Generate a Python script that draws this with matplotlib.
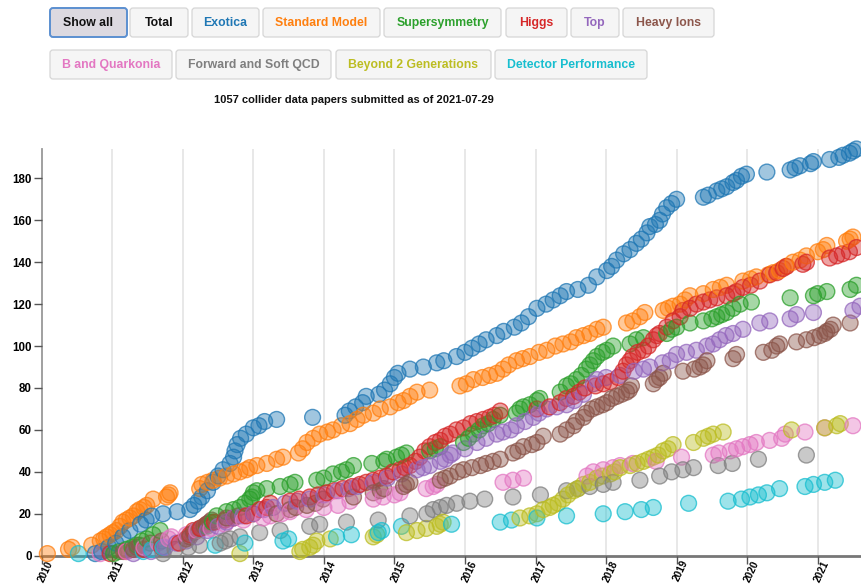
import numpy as np
import matplotlib

matplotlib.use("Agg")
import matplotlib.pyplot as plt
import matplotlib.transforms as mtransforms
from matplotlib.patches import FancyBboxPatch
from matplotlib.colors import to_rgba

plt.rcParams["font.family"] = ["Liberation Sans", "DejaVu Sans"]

# (decimal year, cumulative paper count)
exotica = [
    (2010.76, 1), (2010.85, 2), (2010.95, 4), (2011.05, 6), (2011.15, 9), (2011.25, 12),
    (2011.40, 15), (2011.48, 17), (2011.56, 19), (2011.72, 20), (2011.92, 21), (2012.10, 22),
    (2012.16, 24), (2012.22, 26), (2012.27, 28), (2012.35, 31), (2012.43, 35), (2012.50, 38),
    (2012.57, 41), (2012.67, 44), (2012.72, 47), (2012.74, 50), (2012.77, 53), (2012.82, 56),
    (2012.90, 58), (2013.00, 61), (2013.08, 62), (2013.16, 64), (2013.33, 65), (2013.84, 66),
    (2014.30, 67), (2014.36, 69), (2014.45, 71), (2014.55, 73), (2014.60, 76), (2014.78, 77),
    (2014.86, 79), (2014.94, 82), (2015.00, 85), (2015.05, 87), (2015.22, 89), (2015.41, 90),
    (2015.60, 92), (2015.70, 93), (2015.88, 95), (2016.00, 97), (2016.10, 99), (2016.20, 101),
    (2016.30, 103), (2016.45, 105), (2016.55, 107), (2016.70, 109), (2016.80, 111), (2016.90, 114),
    (2017.02, 118), (2017.15, 120), (2017.25, 122), (2017.35, 124), (2017.44, 126), (2017.60, 127),
    (2017.75, 129), (2017.87, 133), (2018.01, 136), (2018.08, 138), (2018.15, 141), (2018.25, 144),
    (2018.34, 146), (2018.43, 149), (2018.50, 151), (2018.58, 154), (2018.62, 157), (2018.70, 158),
    (2018.76, 160), (2018.80, 163), (2018.86, 166), (2018.93, 168), (2019.00, 170), (2019.38, 171),
    (2019.45, 172), (2019.57, 174), (2019.64, 175), (2019.71, 176), (2019.80, 178), (2019.85, 179),
    (2019.92, 181), (2019.99, 182), (2020.28, 183), (2020.61, 184), (2020.68, 185), (2020.75, 186),
    (2020.90, 187), (2020.94, 188), (2021.17, 189), (2021.30, 190), (2021.36, 191), (2021.45, 192),
    (2021.50, 193), (2021.55, 194),
]
standard_model = [
    (2010.08, 1), (2010.38, 3), (2010.43, 4), (2010.71, 5), (2010.83, 7), (2010.88, 8),
    (2010.92, 9), (2010.97, 10), (2011.01, 11), (2011.06, 12), (2011.11, 14), (2011.15, 16),
    (2011.20, 17), (2011.25, 18), (2011.30, 19), (2011.35, 21), (2011.39, 22), (2011.45, 23),
    (2011.49, 24), (2011.58, 27), (2011.77, 28), (2011.80, 29), (2011.82, 30), (2012.24, 32),
    (2012.27, 34), (2012.35, 35), (2012.43, 36), (2012.52, 37), (2012.62, 38), (2012.72, 39),
    (2012.81, 40), (2012.90, 41), (2012.95, 42), (2013.05, 43), (2013.19, 44), (2013.33, 46),
    (2013.42, 47), (2013.64, 49), (2013.70, 51), (2013.76, 54), (2013.85, 56), (2013.94, 58),
    (2014.05, 59), (2014.13, 60), (2014.25, 62), (2014.37, 63), (2014.47, 65), (2014.56, 67),
    (2014.70, 68), (2014.80, 70), (2014.94, 71), (2015.05, 73), (2015.13, 74), (2015.22, 76),
    (2015.32, 78), (2015.50, 79), (2015.93, 81), (2016.02, 82), (2016.12, 84), (2016.25, 85),
    (2016.35, 86), (2016.45, 87), (2016.54, 89), (2016.62, 91), (2016.73, 93), (2016.82, 94),
    (2016.92, 95), (2017.05, 97), (2017.16, 98), (2017.28, 100), (2017.39, 101), (2017.50, 102),
    (2017.58, 104), (2017.68, 105), (2017.77, 106), (2017.87, 108), (2017.96, 109), (2018.29, 111),
    (2018.38, 112), (2018.48, 114), (2018.55, 116), (2018.81, 117), (2018.88, 118), (2018.95, 119),
    (2019.05, 120), (2019.12, 122), (2019.19, 124), (2019.38, 125), (2019.52, 127), (2019.62, 128),
    (2019.71, 129), (2019.94, 131), (2020.05, 132), (2020.13, 133), (2020.30, 134), (2020.37, 135),
    (2020.46, 136), (2020.55, 138), (2020.65, 140), (2020.75, 141), (2020.84, 143), (2021.00, 145),
    (2021.08, 146), (2021.13, 148), (2021.41, 150), (2021.46, 151), (2021.50, 152),
]
supersymmetry = [
    (2011.02, 1), (2011.10, 2), (2011.20, 3), (2011.28, 4), (2011.35, 5), (2011.42, 7),
    (2011.49, 8), (2011.58, 10), (2011.68, 12), (2012.34, 14), (2012.42, 16), (2012.48, 19),
    (2012.62, 21), (2012.72, 22), (2012.81, 23), (2012.88, 25), (2012.95, 27), (2012.98, 28),
    (2013.00, 30), (2013.05, 31), (2013.19, 32), (2013.38, 33), (2013.52, 34), (2013.59, 35),
    (2013.90, 36), (2014.00, 37), (2014.13, 39), (2014.25, 40), (2014.32, 41), (2014.42, 43),
    (2014.68, 44), (2014.85, 45), (2014.89, 46), (2015.03, 47), (2015.10, 48), (2015.17, 49),
    (2015.50, 50), (2015.58, 51), (2015.65, 52), (2015.98, 54), (2016.05, 56), (2016.12, 58),
    (2016.20, 60), (2016.26, 62), (2016.33, 63), (2016.40, 65), (2016.50, 67), (2016.73, 68),
    (2016.78, 70), (2016.83, 71), (2016.92, 72), (2017.02, 74), (2017.06, 75), (2017.35, 78),
    (2017.44, 81), (2017.50, 82), (2017.58, 84), (2017.65, 86), (2017.72, 89), (2017.77, 91),
    (2017.82, 93), (2017.87, 95), (2017.95, 97), (2018.01, 98), (2018.10, 100), (2018.34, 101),
    (2018.43, 103), (2018.53, 104), (2018.86, 106), (2018.93, 108), (2019.00, 109), (2019.19, 111),
    (2019.38, 112), (2019.50, 113), (2019.57, 114), (2019.64, 115), (2019.71, 116), (2019.80, 118),
    (2019.90, 120), (2020.06, 121), (2020.61, 123), (2020.94, 124), (2021.00, 125), (2021.13, 126),
    (2021.46, 127), (2021.55, 129),
]
higgs = [
    (2010.97, 1), (2011.20, 2), (2011.45, 3), (2011.70, 4), (2011.95, 6), (2012.05, 8),
    (2012.10, 10), (2012.15, 12), (2012.25, 13), (2012.34, 15), (2012.45, 16), (2012.60, 17),
    (2012.72, 18), (2012.90, 19), (2013.00, 20), (2013.09, 22), (2013.19, 23), (2013.24, 25),
    (2013.52, 26), (2013.65, 27), (2013.80, 28), (2013.92, 29), (2014.04, 30), (2014.15, 31),
    (2014.27, 32), (2014.40, 33), (2014.51, 34), (2014.60, 35), (2014.70, 36), (2014.80, 37),
    (2014.89, 38), (2014.98, 40), (2015.08, 41), (2015.15, 42), (2015.22, 43), (2015.30, 45),
    (2015.36, 47), (2015.43, 50), (2015.50, 52), (2015.58, 54), (2015.65, 55), (2015.72, 57),
    (2015.79, 58), (2015.88, 60), (2015.98, 61), (2016.08, 63), (2016.17, 64), (2016.26, 65),
    (2016.35, 66), (2016.42, 67), (2016.50, 69), (2017.02, 70), (2017.20, 71), (2017.35, 73),
    (2017.44, 75), (2017.54, 76), (2017.62, 78), (2017.70, 80), (2017.85, 81), (2017.96, 82),
    (2018.06, 83), (2018.17, 85), (2018.24, 88), (2018.29, 91), (2018.34, 93), (2018.38, 95),
    (2018.45, 97), (2018.53, 98), (2018.60, 100), (2018.67, 103), (2018.72, 105), (2018.76, 106),
    (2018.86, 109), (2018.95, 112), (2019.05, 114), (2019.09, 117), (2019.19, 118), (2019.28, 120),
    (2019.38, 121), (2019.47, 122), (2019.57, 123), (2019.71, 124), (2019.80, 125), (2019.85, 126),
    (2019.94, 128), (2020.05, 129), (2020.18, 131), (2020.32, 134), (2020.42, 135), (2020.51, 137),
    (2020.56, 138), (2020.79, 139), (2020.84, 140), (2021.17, 142), (2021.27, 143), (2021.35, 144),
    (2021.45, 145), (2021.55, 147),
]
top = [
    (2011.30, 1), (2011.55, 2), (2011.75, 4), (2011.91, 6), (2012.05, 7), (2012.20, 9),
    (2012.35, 12), (2012.50, 14), (2012.62, 16), (2012.72, 18), (2012.85, 19), (2013.00, 20),
    (2013.15, 22), (2013.28, 23), (2013.45, 25), (2013.62, 26), (2013.80, 27), (2014.00, 29),
    (2014.20, 31), (2014.35, 32), (2014.47, 33), (2014.70, 35), (2014.90, 37), (2015.10, 39),
    (2015.32, 41), (2015.41, 42), (2015.50, 43), (2015.65, 45), (2015.72, 46), (2015.79, 48),
    (2015.83, 49), (2016.00, 51), (2016.17, 54), (2016.30, 56), (2016.45, 58), (2016.54, 59),
    (2016.65, 60), (2016.73, 62), (2016.85, 64), (2016.97, 66), (2017.05, 68), (2017.16, 70),
    (2017.30, 71), (2017.44, 72), (2017.55, 74), (2017.68, 77), (2017.82, 82), (2017.87, 84),
    (2018.00, 85), (2018.20, 86), (2018.40, 88), (2018.53, 89), (2018.62, 90), (2018.80, 92),
    (2018.91, 93), (2019.00, 96), (2019.14, 97), (2019.28, 98), (2019.43, 100), (2019.52, 101),
    (2019.61, 103), (2019.70, 105), (2019.80, 106), (2019.94, 108), (2020.18, 111), (2020.32, 112),
    (2020.61, 113), (2020.70, 115), (2020.94, 116), (2021.50, 117), (2021.60, 119),
]
heavy_ions = [
    (2011.16, 2), (2011.30, 3), (2011.35, 4), (2011.39, 5), (2011.54, 6), (2011.70, 7),
    (2012.05, 8), (2012.10, 9), (2012.15, 11), (2012.20, 12), (2012.24, 13), (2012.30, 14),
    (2012.34, 15), (2012.38, 16), (2012.41, 17), (2012.62, 18), (2012.79, 19), (2013.33, 20),
    (2013.52, 22), (2013.60, 23), (2013.76, 24), (2013.88, 25), (2013.99, 27), (2014.42, 28),
    (2014.70, 30), (2014.80, 31), (2014.85, 32), (2015.13, 33), (2015.17, 34), (2015.22, 35),
    (2015.65, 36), (2015.72, 37), (2015.79, 38), (2015.90, 40), (2015.98, 41), (2016.10, 42),
    (2016.22, 43), (2016.30, 44), (2016.40, 45), (2016.50, 46), (2016.68, 49), (2016.75, 50),
    (2016.83, 52), (2016.95, 53), (2017.02, 54), (2017.11, 57), (2017.35, 58), (2017.44, 60),
    (2017.54, 62), (2017.58, 64), (2017.68, 66), (2017.72, 68), (2017.80, 70), (2017.87, 71),
    (2017.95, 72), (2018.01, 73), (2018.08, 75), (2018.15, 76), (2018.22, 77), (2018.29, 78),
    (2018.33, 79), (2018.36, 81), (2018.67, 82), (2018.72, 84), (2018.76, 85), (2018.81, 87),
    (2019.09, 88), (2019.25, 89), (2019.33, 90), (2019.38, 91), (2019.43, 93), (2019.80, 94),
    (2019.85, 96), (2020.23, 97), (2020.35, 98), (2020.42, 100), (2020.46, 101), (2020.70, 102),
    (2020.84, 103), (2020.95, 104), (2021.03, 105), (2021.10, 106), (2021.13, 107), (2021.18, 108),
    (2021.22, 110), (2021.46, 111),
]
b_quarkonia = [
    (2010.83, 1), (2011.20, 2), (2011.45, 4), (2011.65, 6), (2011.80, 8), (2011.84, 9),
    (2012.05, 10), (2012.20, 12), (2012.40, 13), (2012.60, 15), (2012.86, 17), (2013.14, 18),
    (2013.24, 19), (2013.40, 20), (2013.52, 21), (2013.75, 22), (2014.00, 23), (2014.20, 24),
    (2014.37, 26), (2014.70, 27), (2014.84, 28), (2015.00, 29), (2015.08, 30), (2015.45, 32),
    (2015.55, 33), (2015.60, 34), (2016.54, 35), (2016.68, 36), (2016.83, 37), (2017.73, 38),
    (2017.82, 40), (2017.96, 41), (2018.10, 42), (2018.20, 43), (2018.38, 44), (2018.71, 45),
    (2019.07, 47), (2019.52, 48), (2019.60, 49), (2019.76, 50), (2019.85, 51), (2019.94, 52),
    (2020.04, 53), (2020.13, 54), (2020.32, 55), (2020.49, 56), (2020.54, 58), (2020.82, 59),
    (2021.10, 61), (2021.50, 62),
]
forward_qcd = [
    (2011.72, 1), (2011.89, 3), (2012.08, 4), (2012.24, 5), (2012.53, 6), (2012.60, 7),
    (2012.67, 8), (2012.81, 9), (2013.09, 11), (2013.38, 12), (2013.80, 14), (2013.94, 15),
    (2014.32, 16), (2014.77, 17), (2015.22, 19), (2015.46, 20), (2015.55, 22), (2015.65, 23),
    (2015.74, 24), (2015.88, 25), (2016.07, 26), (2016.28, 27), (2016.68, 28), (2017.07, 29),
    (2017.44, 31), (2017.60, 32), (2017.77, 33), (2017.96, 34), (2018.10, 35), (2018.48, 36),
    (2018.76, 38), (2018.93, 40), (2019.09, 41), (2019.24, 42), (2019.59, 43), (2019.79, 44),
    (2020.16, 46), (2020.84, 48),
]
beyond_2g = [
    (2012.81, 1), (2013.66, 2), (2013.70, 3), (2013.80, 4), (2013.85, 5), (2013.90, 7),
    (2014.09, 8), (2014.70, 9), (2014.75, 10), (2015.17, 11), (2015.32, 12), (2015.45, 13),
    (2015.60, 14), (2015.65, 15), (2015.69, 16), (2016.78, 18), (2016.92, 19), (2017.02, 20),
    (2017.11, 22), (2017.20, 23), (2017.25, 24), (2017.32, 25), (2017.39, 27), (2017.46, 29),
    (2017.54, 31), (2017.60, 32), (2017.68, 34), (2017.77, 35), (2017.87, 37), (2017.95, 38),
    (2018.06, 39), (2018.12, 40), (2018.20, 42), (2018.34, 43), (2018.44, 44), (2018.53, 45),
    (2018.60, 46), (2018.67, 47), (2018.74, 48), (2018.81, 50), (2018.88, 51), (2018.95, 53),
    (2019.24, 54), (2019.38, 56), (2019.45, 57), (2019.52, 58), (2019.66, 59), (2020.63, 60),
    (2021.10, 61), (2021.27, 62), (2021.32, 63),
]
detector = [
    (2010.52, 1), (2011.44, 2), (2011.56, 3), (2011.72, 4), (2012.46, 5), (2012.88, 6),
    (2013.42, 7), (2013.50, 8), (2014.18, 9), (2014.39, 10), (2014.77, 11), (2014.82, 12),
    (2015.10, 14), (2015.81, 15), (2016.50, 16), (2016.66, 17), (2017.02, 18), (2017.44, 19),
    (2017.96, 20), (2018.27, 21), (2018.50, 22), (2018.67, 23), (2019.17, 25), (2019.73, 26),
    (2019.92, 27), (2020.04, 28), (2020.16, 29), (2020.28, 30), (2020.46, 32), (2020.82, 33),
    (2020.94, 34), (2021.10, 35), (2021.25, 36),
]

categories = ["Exotica", "Standard Model", "Supersymmetry", "Higgs", "Top", "Heavy Ions",
              "B and Quarkonia", "Forward and Soft QCD", "Beyond 2 Generations", "Detector Performance"]
series = [exotica, standard_model, supersymmetry, higgs, top, heavy_ions,
          b_quarkonia, forward_qcd, beyond_2g, detector]
colors = ["#1f77b4", "#ff7f0e", "#2ca02c", "#d62728", "#9467bd", "#8c564b",
          "#e377c2", "#7f7f7f", "#bcbd22", "#17becf"]
years = list(range(2010, 2022))
title = "1057 collider data papers submitted as of 2021-07-29"

W, H = 862, 586
fig = plt.figure(figsize=(W / 100, H / 100), dpi=100)

# ---- buttons and title (pixel coords overlay) ----
ov = fig.add_axes([0, 0, 1, 1])
ov.set_xlim(0, W)
ov.set_ylim(H, 0)
ov.axis("off")

buttons = [
    ("Show all", "#111111", 50, 127, 8, 37),
    ("Total", "#111111", 130, 188, 8, 37),
    ("Exotica", colors[0], 192, 259, 8, 37),
    ("Standard Model", colors[1], 263, 380, 8, 37),
    ("Supersymmetry", colors[2], 384, 501, 8, 37),
    ("Higgs", colors[3], 506, 567, 8, 37),
    ("Top", colors[4], 571, 619, 8, 37),
    ("Heavy Ions", colors[5], 623, 714, 8, 37),
    ("B and Quarkonia", colors[6], 50, 172, 50, 79),
    ("Forward and Soft QCD", colors[7], 176, 331, 50, 79),
    ("Beyond 2 Generations", colors[8], 336, 491, 50, 79),
    ("Detector Performance", colors[9], 495, 647, 50, 79),
]
for i, (label, tc, x0, x1, y0, y1) in enumerate(buttons):
    active = i == 0
    box = FancyBboxPatch((x0, y0), x1 - x0, y1 - y0,
                         boxstyle="round,pad=0,rounding_size=3",
                         facecolor="#dcd9e0" if active else "#f5f5f5",
                         edgecolor="#5b8fd0" if active else "#d6d6d6",
                         linewidth=1.4 if active else 0.9)
    ov.add_patch(box)
    ov.text((x0 + x1) / 2, (y0 + y1) / 2 + 0.5, label, color=tc, fontsize=8.8,
            fontweight="bold", ha="center", va="center")

ov.text(354, 100, title, fontsize=8, fontweight="bold", ha="center", va="center", color="#111111")

# ---- scatter ----
ax = fig.add_axes([41.7 / W, 1 - 555.7 / H, (860 - 41.7) / W, (555.7 - 149) / H])
ax.set_zorder(2)
ax.patch.set_alpha(0)

xs, ys, fc, ec = [], [], [], []
for pts, col in zip(series, colors):
    for x, y in pts:
        xs.append(x)
        ys.append(y)
        fc.append(to_rgba(col, 0.42))
        ec.append(to_rgba(col, 0.75))
xs = np.array(xs)
ys = np.array(ys)
order = np.argsort(xs, kind="stable")
ax.scatter(xs[order], ys[order], s=130, facecolors=np.array(fc)[order],
           edgecolors=np.array(ec)[order], linewidths=1.0, clip_on=False, zorder=3)

ax.set_xlim(2010, 2021.6)
ax.set_ylim(0, 194)
for yr in years[1:]:
    ax.axvline(yr, color="#e6e6e6", linewidth=1.3, zorder=0)

ax.set_yticks(range(0, 181, 20))
ax.set_xticks(years)
ax.set_xticklabels([str(y) for y in years])
ax.tick_params(axis="y", length=6, width=1, color="#555555", labelsize=8.3, pad=1)
ax.tick_params(axis="x", length=6, width=1, color="#555555", labelsize=7.2, pad=0)
for lab in ax.get_yticklabels():
    lab.set_fontweight("bold")
shift = mtransforms.ScaledTranslation(9 / 100, 3 / 100, fig.dpi_scale_trans)
for lab in ax.get_xticklabels():
    lab.set_fontweight("bold")
    lab.set_rotation(65)
    lab.set_ha("right")
    lab.set_va("center")
    lab.set_rotation_mode("anchor")
    lab.set_transform(lab.get_transform() + shift)

for side in ("top", "right"):
    ax.spines[side].set_visible(False)
ax.spines["left"].set_color("#999999")
ax.spines["left"].set_linewidth(1.3)
ax.spines["bottom"].set_color("#777777")
ax.spines["bottom"].set_linewidth(2)
ax.spines["left"].set_zorder(1)
ax.spines["bottom"].set_zorder(1)

fig.savefig("out.png", dpi=100, facecolor="white")
